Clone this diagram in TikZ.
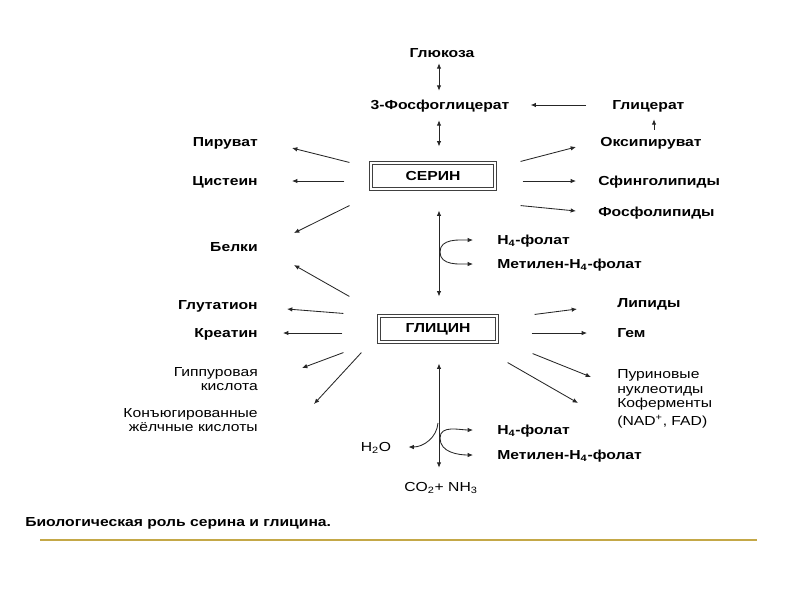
\documentclass[tikz,border=0pt]{standalone}
\usepackage{fontspec}
\setmainfont{Liberation Sans}[FakeStretch=1.2]
\usetikzlibrary{arrows.meta}
\definecolor{goldline}{RGB}{196,168,72}

\begin{document}
\begin{tikzpicture}[
  x=0.025cm, y=-0.025cm,
  lbl/.style={inner sep=0pt, text height=6.7pt, text depth=0pt, font=\fontsize{9.3}{10}\selectfont\bfseries},
  lbln/.style={lbl, font=\fontsize{9.3}{10}\selectfont},
  mlbl/.style={inner sep=0pt, align=#1, font=\fontsize{9.3}{10.2}\selectfont},
  box/.style={draw=black!75, double, double distance=1.5pt, line width=0.7pt, inner sep=0pt, font=\fontsize{9.3}{10}\selectfont\bfseries},
  arr/.style={-{Latex[length=3.8pt,width=3.2pt]}, line width=0.6pt, draw=black!85},
  dbl/.style={{Latex[length=3.8pt,width=3.2pt]}-{Latex[length=3.8pt,width=3.2pt]}, line width=0.6pt, draw=black!85}
]
\useasboundingbox (0,0) rectangle (800,600);

% upper part
\node[lbl] (glu) at (442,53) {Глюкоза};
\node[lbl] (pga) at (440,105) {3-Фосфоглицерат};
\node[lbl, anchor=west] (glc) at (612,105) {Глицерат};
\node[lbl, anchor=west] (oxp) at (600,142) {Оксипируват};
\node[box, minimum width=88.3pt, minimum height=18.6pt] (ser) at (433,176) {СЕРИН};
\node[lbl, anchor=west] (sph) at (598,181) {Сфинголипиды};
\node[lbl, anchor=west] (phl) at (598,212) {Фосфолипиды};
\node[lbl, anchor=east] (pyr) at (258,142) {Пируват};
\node[lbl, anchor=east] (cys) at (258,181) {Цистеин};
\node[lbl, anchor=east] (prt) at (258,247) {Белки};
\node[lbl, anchor=west] (thf1) at (497,240) {H\textsubscript{4}-фолат};
\node[lbl, anchor=west] (mthf1) at (497,264) {Метилен-H\textsubscript{4}-фолат};

% lower part
\node[box, minimum width=84.1pt, minimum height=18.6pt] (gly) at (438,329) {ГЛИЦИН};
\node[lbl, anchor=east] (gsh) at (258,305) {Глутатион};
\node[lbl, anchor=east] (cre) at (258,333) {Креатин};
\node[mlbl=right, anchor=east] (hip) at (258,379) {Гиппуровая\\кислота};
\node[mlbl=right, anchor=east] (cnj) at (258,420) {Конъюгированные\\жёлчные кислоты};
\node[lbl, anchor=west] (lip) at (617,303) {Липиды};
\node[lbl, anchor=west] (hem) at (617,333) {Гем};
\node[mlbl=left, anchor=west] (pur) at (617,383) {Пуриновые\\нуклеотиды};
\node[mlbl=left, anchor=west] (cof) at (617,413) {Коферменты\\[3pt](NAD\textsuperscript{+}, FAD)};
\node[lbl, anchor=west] (thf2) at (497,430) {H\textsubscript{4}-фолат};
\node[lbl, anchor=west] (mthf2) at (497,455) {Метилен-H\textsubscript{4}-фолат};
\node[lbln] (h2o) at (376,447) {H\textsubscript{2}O};
\node[lbln] (co2) at (441,487) {CO\textsubscript{2}+ NH\textsubscript{3}};
\node[lbl, anchor=west] (cap) at (25,522) {Биологическая роль серина и глицина.};

\coordinate (j1) at (440,252);
\coordinate (j2) at (440,438);
\coordinate (j3) at (438,423);

% serine
\draw[dbl] ([shift={(-3,5.3)}]glu.south) -- ([shift={(-1,-9.3)}]pga.north);
\draw[dbl] ([shift={(-1,10.3)}]pga.south) -- ([shift={(6,-16)}]ser.north);
\draw[arr] ([shift={(-26,0)}]glc.west) -- ([shift={(21,0)}]pga.east);
\draw[arr] ([shift={(54,-7.3)}]oxp.north west) -- ([shift={(42,9.3)}]glc.south west);
\draw[arr] ([shift={(-21,0)}]ser.north west) -- ([shift={(34,6)}]pyr.east);
\draw[arr] ([shift={(-26,5)}]ser.west) -- ([shift={(34,0)}]cys.east);
\draw[arr] ([shift={(-21,16)}]ser.south west) -- ([shift={(36,-14)}]prt.east);
\draw[arr] ([shift={(25,-1)}]ser.north east) -- ([shift={(-24,5)}]oxp.west);
\draw[arr] ([shift={(27,5)}]ser.east) -- ([shift={(-22,0)}]sph.west);
\draw[arr] ([shift={(25,16)}]ser.south east) -- ([shift={(-22,-1)}]phl.west);
\draw[dbl] ([shift={(6,21)}]ser.south) -- ([shift={(1,-19)}]gly.north);
\draw[arr] (j1) to[out=90, in=180] ([shift={(-24,0)}]thf1.west);
\draw[arr] (j1) to[out=-90, in=180] ([shift={(-24,0)}]mthf1.west);

% glycine
\draw[arr] ([shift={(-29,-19)}]gly.north west) -- ([shift={(36,18)}]prt.east);
\draw[arr] ([shift={(-35,-2)}]gly.north west) -- ([shift={(29,4)}]gsh.east);
\draw[arr] ([shift={(-36,4)}]gly.west) -- ([shift={(25,0)}]cre.east);
\draw[arr] ([shift={(-35,10)}]gly.south west) -- ([shift={(44,-11)}]hip.east);
\draw[arr] ([shift={(-17,10)}]gly.south west) -- ([shift={(56,-16)}]cnj.east);
\draw[arr] ([shift={(37,-1)}]gly.north east) -- ([shift={(-40,6)}]lip.west);
\draw[arr] ([shift={(34,4)}]gly.east) -- ([shift={(-30,0)}]hem.west);
\draw[arr] ([shift={(35,11)}]gly.south east) -- ([shift={(-26,-6)}]pur.west);
\draw[arr] ([shift={(10,20)}]gly.south east) -- ([shift={(-39,-10)}]cof.west);
\draw[dbl] ([shift={(1,21)}]gly.south) -- ([shift={(-2,-14.3)}]co2.north);
\draw[arr] (j2) to[out=90, in=180] ([shift={(-24,0)}]thf2.west);
\draw[arr] (j2) to[out=-90, in=180] ([shift={(-24,0)}]mthf2.west);
\draw[arr] (j3) to[out=-95, in=0] ([shift={(17,0)}]h2o.east);

\draw[goldline, line width=1.4pt] (40,540) -- (757,540);
\end{tikzpicture}
\end{document}
